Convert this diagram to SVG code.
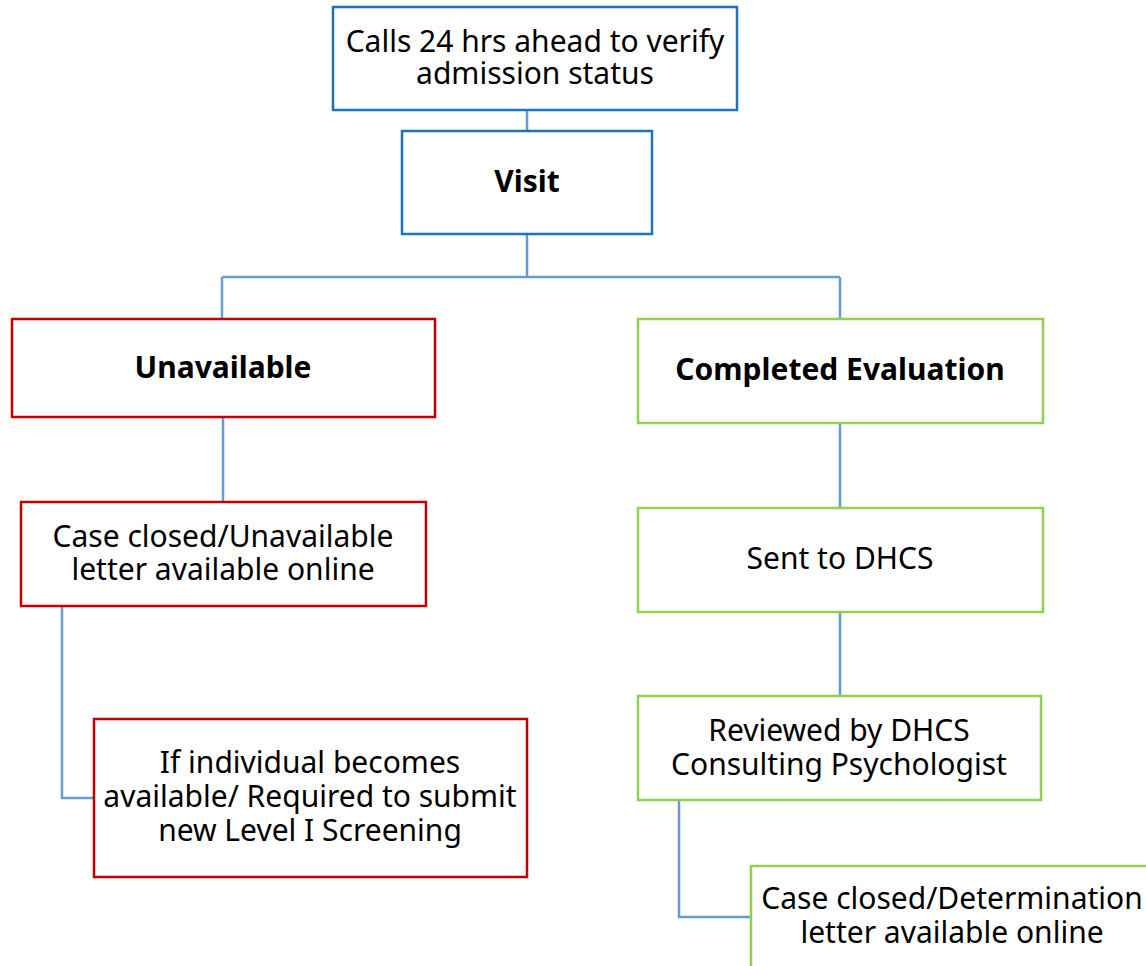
<svg xmlns="http://www.w3.org/2000/svg" width="1146" height="966" viewBox="0 0 1146 966">
  <style>
    .box { fill: #ffffff; stroke-width: 2.5; }
    .blue { stroke: #1C74BC; }
    .red { stroke: #C00000; }
    .green { stroke: #92D050; }
    .conn { fill: none; stroke: #6A9BCF; stroke-width: 2.5; }
    text { font-family: "Noto Sans", "Open Sans", sans-serif; font-size: 30px; fill: #000000; text-anchor: middle; }
    .bold { font-weight: bold; }
  </style>
  <rect width="1146" height="966" fill="#ffffff"/>

  <g id="connectors">
    <line class="conn" x1="527" y1="110" x2="527" y2="131"/>
    <path class="conn" d="M527 234 V277 M222 277 H840 M222 277 V319 M840 277 V319"/>
    <line class="conn" x1="223" y1="417" x2="223" y2="502"/>
    <polyline class="conn" points="62,606 62,798 94,798"/>
    <line class="conn" x1="840" y1="423" x2="840" y2="508"/>
    <line class="conn" x1="840" y1="612" x2="840" y2="696"/>
    <polyline class="conn" points="679,800 679,917 751,917"/>
  </g>

  <g id="calls">
    <rect class="box blue" x="333" y="7" width="404" height="103"/>
    <text x="535" y="52">Calls 24 hrs ahead to verify<tspan x="535" dy="32">admission status</tspan></text>
  </g>

  <g id="visit">
    <rect class="box blue" x="402" y="131" width="250" height="103"/>
    <text class="bold" x="527" y="192">Visit</text>
  </g>

  <g id="unavailable">
    <rect class="box red" x="12" y="319" width="423" height="98"/>
    <text class="bold" x="223" y="378">Unavailable</text>
  </g>

  <g id="case-closed-unavailable">
    <rect class="box red" x="21" y="502" width="405" height="104"/>
    <text x="223" y="547">Case closed/Unavailable<tspan x="223" dy="33">letter available online</tspan></text>
  </g>

  <g id="becomes-available">
    <rect class="box red" x="94" y="719" width="433" height="158"/>
    <text x="310" y="773">If individual becomes<tspan x="310" dy="34">available/ Required to submit</tspan><tspan x="310" dy="34">new Level I Screening</tspan></text>
  </g>

  <g id="completed-evaluation">
    <rect class="box green" x="638" y="319" width="405" height="104"/>
    <text class="bold" x="840" y="380">Completed Evaluation</text>
  </g>

  <g id="sent-to-dhcs">
    <rect class="box green" x="638" y="508" width="405" height="104"/>
    <text x="840" y="569">Sent to DHCS</text>
  </g>

  <g id="reviewed">
    <rect class="box green" x="638" y="696" width="403" height="104"/>
    <text x="839" y="741">Reviewed by DHCS<tspan x="839" dy="34">Consulting Psychologist</tspan></text>
  </g>

  <g id="case-closed-determination">
    <rect class="box green" x="751" y="866" width="404" height="110"/>
    <text x="952" y="909">Case closed/Determination<tspan x="952" dy="34">letter available online</tspan></text>
  </g>
</svg>
